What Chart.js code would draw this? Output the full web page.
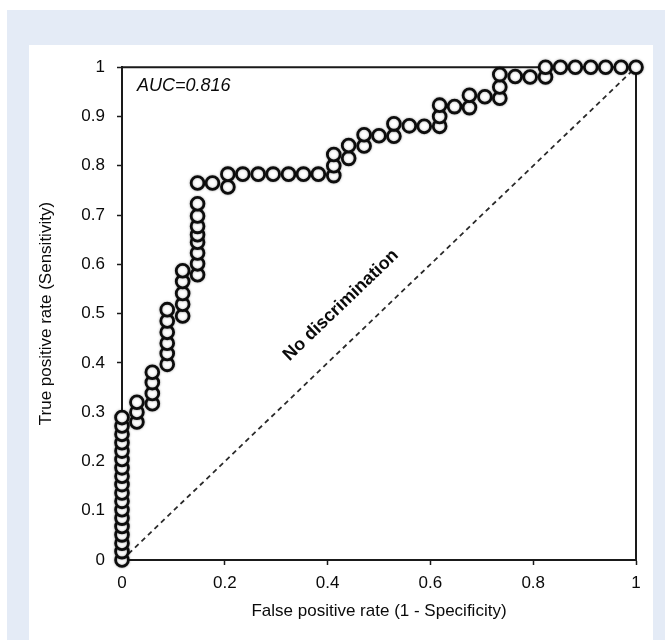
<!DOCTYPE html>
<html>
<head>
<meta charset="utf-8">
<script src="https://cdn.jsdelivr.net/npm/chart.js@4.4.1/dist/chart.umd.min.js"></script>
<style>
    body { margin: 0; background: #fff; }
    #bg { position: absolute; left: 7px; top: 10px; width: 658px; height: 630px; background: #e4ebf6; }
    #panel { position: absolute; left: 29px; top: 45px; width: 624px; height: 595px; background: #fff; }
</style>
</head>
<body>
<div id="bg"></div>
<div id="panel"><canvas id="roc"></canvas></div>
<script>
// ROC points (false positive rate / true positive rate)
const fpr = [
    0, 0, 0, 0, 0, 0, 0, 0, 0, 0, 0, 0, 0, 0, 0, 0, 0, 0,
    0.029, 0.029, 0.029,
    0.059, 0.059, 0.059, 0.059,
    0.088, 0.088, 0.088, 0.088, 0.088, 0.088,
    0.118, 0.118, 0.118, 0.118, 0.118,
    0.147, 0.147, 0.147, 0.147, 0.147, 0.147, 0.147, 0.147, 0.147,
    0.176,
    0.206, 0.206,
    0.235, 0.265, 0.294, 0.324, 0.353, 0.382,
    0.412, 0.412, 0.412,
    0.441, 0.441,
    0.471, 0.471,
    0.5,
    0.529, 0.529,
    0.559,
    0.588,
    0.618, 0.618, 0.618,
    0.647,
    0.676, 0.676,
    0.706,
    0.735, 0.735, 0.735,
    0.765,
    0.794,
    0.824, 0.824,
    0.853, 0.882, 0.912, 0.941, 0.971, 1
];
const tpr = [
    0, 0.017, 0.034, 0.051, 0.068, 0.085, 0.102, 0.119, 0.136, 0.153, 0.17, 0.187, 0.204, 0.221, 0.238, 0.255, 0.272, 0.289,
    0.28, 0.30, 0.32,
    0.317, 0.338, 0.36, 0.381,
    0.397, 0.419, 0.44, 0.462, 0.485, 0.508,
    0.495, 0.519, 0.541, 0.565, 0.587,
    0.579, 0.601, 0.623, 0.645, 0.66, 0.677, 0.698, 0.723, 0.765,
    0.765,
    0.757, 0.783,
    0.783, 0.783, 0.783, 0.783, 0.783, 0.783,
    0.78, 0.80, 0.823,
    0.815, 0.841,
    0.84, 0.863,
    0.861,
    0.86, 0.885,
    0.881,
    0.88,
    0.88, 0.90, 0.923,
    0.92,
    0.918, 0.943,
    0.94,
    0.937, 0.96, 0.985,
    0.981,
    0.98,
    0.98, 1,
    1, 1, 1, 1, 1, 1
];
const diagX = [0, 1];
const diagY = [0, 1];
const xTickLabels = ['0', '0.2', '0.4', '0.6', '0.8', '1'];
const yTickLabels = ['0', '0.1', '0.2', '0.3', '0.4', '0.5', '0.6', '0.7', '0.8', '0.9', '1'];

const FONT = '"Liberation Sans", Arial, Helvetica, sans-serif';
const INK = '#0a0a0a';

// box frame: top and right edges of the plot area
const framePlugin = {
    id: 'frame',
    beforeDatasetsDraw(chart) {
        const {ctx, chartArea: a} = chart;
        ctx.save();
        ctx.strokeStyle = '#1a1a1a';
        ctx.lineWidth = 2;
        ctx.beginPath();
        ctx.moveTo(a.left, a.top);
        ctx.lineTo(a.right, a.top);
        ctx.lineTo(a.right, a.bottom);
        ctx.stroke();
        ctx.restore();
    },
    // soft halo round the circles, like the printed figure
    beforeDatasetDraw(chart, args) {
        if (args.index !== 0) return;
        const ctx = chart.ctx;
        ctx.save();
        ctx.shadowColor = 'rgba(0, 0, 0, 0.35)';
        ctx.shadowBlur = 2.5;
    },
    afterDatasetDraw(chart, args) {
        if (args.index !== 0) return;
        chart.ctx.restore();
    }
};

// in-plot labels
const notesPlugin = {
    id: 'notes',
    afterDatasetsDraw(chart) {
        const {ctx, scales: {x, y}} = chart;
        ctx.save();
        ctx.fillStyle = INK;
        ctx.font = 'italic 18px ' + FONT;
        ctx.textAlign = 'left';
        ctx.textBaseline = 'middle';
        ctx.fillText('AUC=0.816', x.getPixelForValue(0.029), y.getPixelForValue(0.962));

        const angle = Math.atan2(y.getPixelForValue(1) - y.getPixelForValue(0), x.getPixelForValue(1) - x.getPixelForValue(0));
        ctx.translate(x.getPixelForValue(0.426), y.getPixelForValue(0.517));
        ctx.rotate(angle);
        ctx.font = 'bold 18px ' + FONT;
        ctx.textAlign = 'center';
        ctx.fillText('No discrimination', 0, 0);
        ctx.restore();
    }
};

new Chart(document.getElementById('roc'), {
    type: 'scatter',
    data: {
        datasets: [
            {
                data: fpr.map((v, i) => ({x: v, y: tpr[i]})),
                pointRadius: 6.4,
                pointBorderWidth: 2.8,
                borderColor: '#0d0d0d',
                backgroundColor: '#ffffff',
                clip: false,
            },
            {
                data: diagX.map((v, i) => ({x: v, y: diagY[i]})),
                showLine: true,
                pointRadius: 0,
                borderColor: '#2a2a2a',
                borderWidth: 1.8,
                borderDash: [5, 4],
            },
        ],
    },
    options: {
        animation: false,
        responsive: true,
        maintainAspectRatio: false,
        layout: {
            autoPadding: false,
            padding: {top: 15, right: 17, bottom: 0, left: 0},
        },
        plugins: {
            legend: {display: false},
            tooltip: {enabled: false},
        },
        scales: {
            x: {
                type: 'linear',
                min: 0,
                max: 1,
                afterFit: (scale) => { scale.height = 80; },
                border: {display: true, color: '#1a1a1a', width: 2},
                grid: {drawOnChartArea: false, drawTicks: true, tickLength: 5, color: '#1a1a1a', tickWidth: 1.5},
                ticks: {
                    stepSize: 0.2,
                    padding: 8,
                    color: INK,
                    font: {family: FONT, size: 17},
                    callback: (v, i) => xTickLabels[i],
                },
                title: {
                    display: true,
                    text: 'False positive rate (1 - Specificity)',
                    color: INK,
                    font: {family: FONT, size: 17},
                    padding: {top: 0, bottom: 18},
                },
            },
            y: {
                type: 'linear',
                min: 0,
                max: 1,
                afterFit: (scale) => { scale.width = 93; },
                border: {display: true, color: '#1a1a1a', width: 2},
                grid: {drawOnChartArea: false, drawTicks: true, tickLength: 5, color: '#1a1a1a', tickWidth: 1.5},
                ticks: {
                    stepSize: 0.1,
                    padding: 12,
                    color: INK,
                    font: {family: FONT, size: 17},
                    callback: (v, i) => yTickLabels[i],
                },
                title: {
                    display: true,
                    text: 'True positive rate (Sensitivity)',
                    color: INK,
                    font: {family: FONT, size: 17},
                    padding: {top: 7, bottom: 0},
                },
            },
        },
    },
    plugins: [framePlugin, notesPlugin],
});
</script>
</body>
</html>
